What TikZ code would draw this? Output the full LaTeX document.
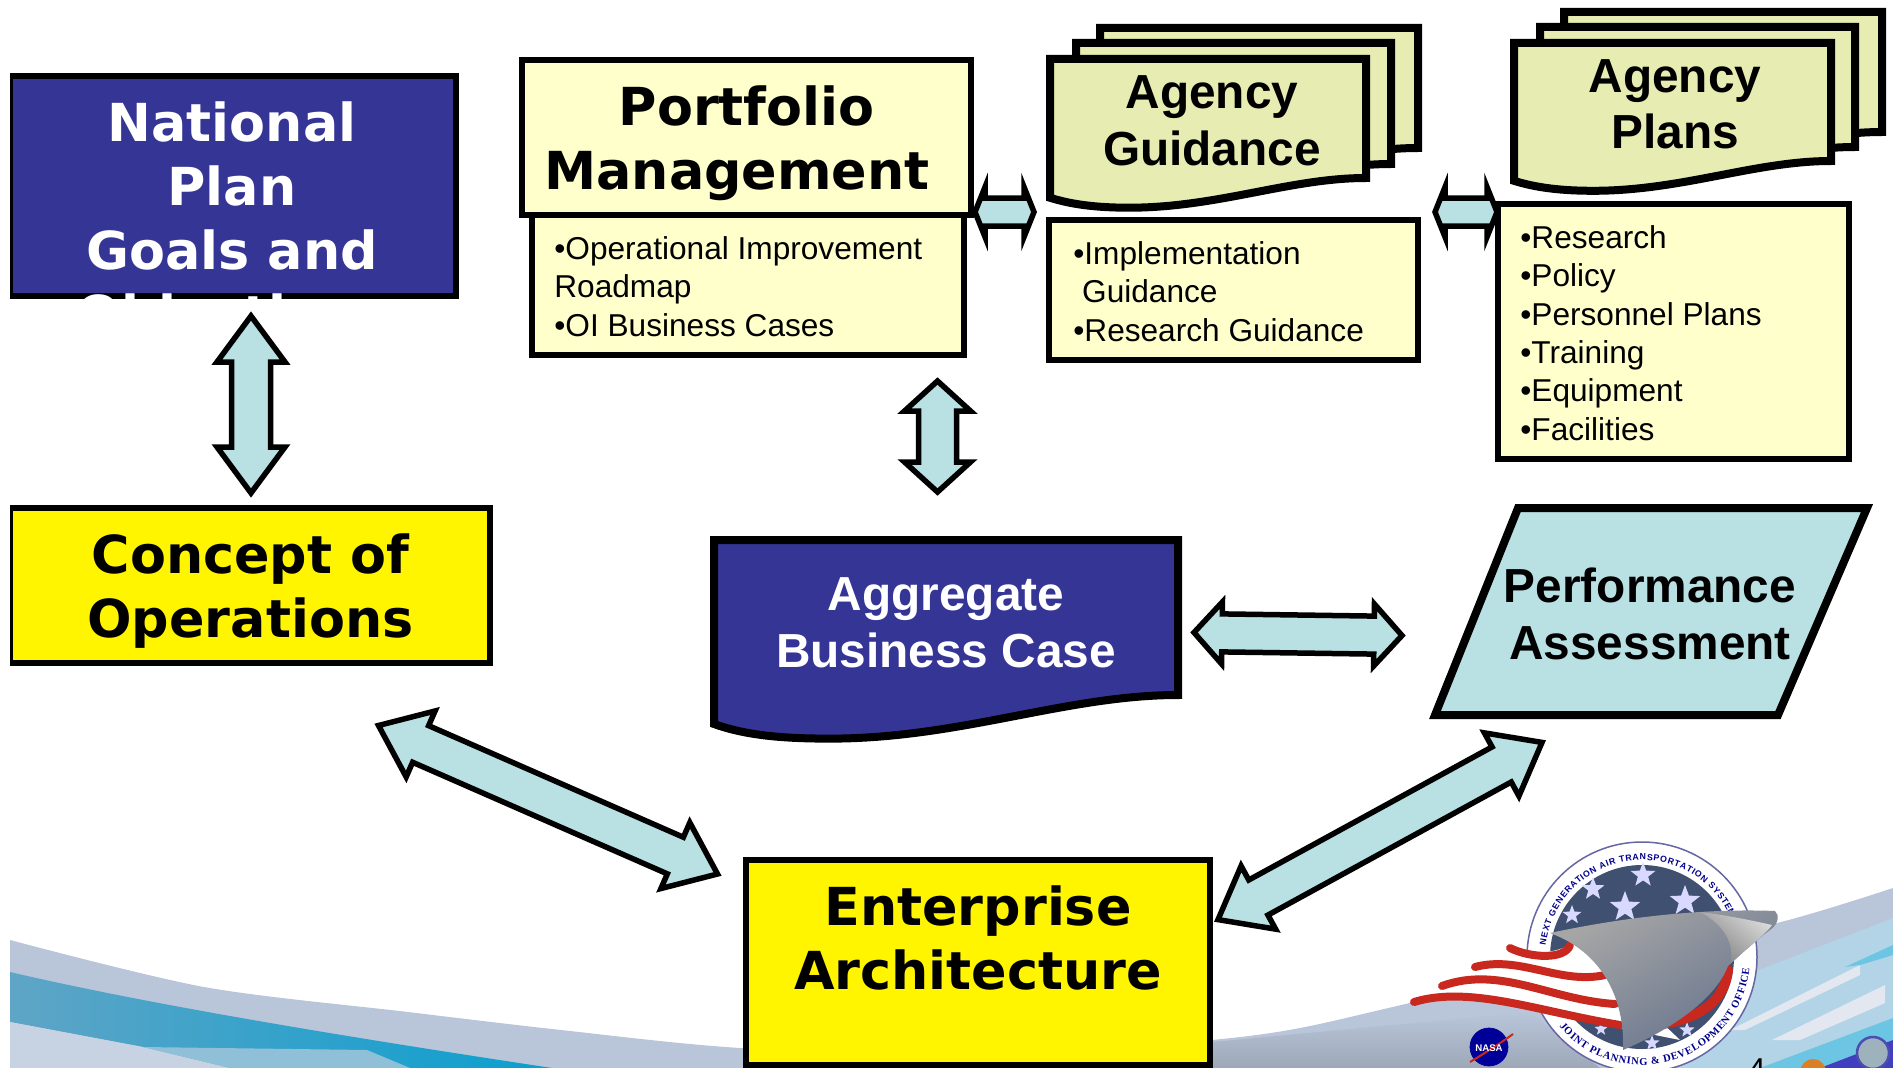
\documentclass[tikz,border=0pt]{standalone}
\usepackage{fontspec}
\setmainfont{Liberation Sans}
\newfontfamily\verdanafont{DejaVu Sans}
\newfontfamily\sealfont{Liberation Serif}
\usepackage{xcolor}
\usepackage{tikz}
\usetikzlibrary{positioning}
\usetikzlibrary{calc}
\usetikzlibrary{fit}
\usetikzlibrary{math}
\usetikzlibrary{shapes.geometric}
\usetikzlibrary{decorations.text}

\definecolor{planblue}{HTML}{353596}
\definecolor{opsyellow}{HTML}{FFF500}
\definecolor{paleyellow}{HTML}{FFFFCC}
\definecolor{sheetgreen}{HTML}{E7ECB2}
\definecolor{arrowblue}{HTML}{B9E0E3}
\definecolor{bandgray}{HTML}{B9C5D9}
\definecolor{bandpale}{HTML}{C7D3E2}
\definecolor{bandblue}{HTML}{5FA5C6}
\definecolor{bandvivid}{HTML}{0A9FCF}
\definecolor{bandsky}{HTML}{B2D4E6}
\definecolor{sealnavy}{HTML}{3F5070}
\definecolor{flagred}{HTML}{C8281E}

\def\pxu{0.02cm}

\tikzset{
  boxline/.style   = {draw=black, line width=1.15mm, inner sep=0pt},
  sheetline/.style = {draw=black, line width=1.6mm},
  arrowline/.style = {draw=black, line width=1.1mm, fill=arrowblue, miter limit=12},
  widetitle/.style = {font=\verdanafont\bfseries\fontsize{29.8}{36.3}\selectfont, align=center, inner sep=0pt, anchor=base},
  archtitle/.style = {font=\bfseries\fontsize{27.2}{32.3}\selectfont, align=center, inner sep=0pt, anchor=base},
  listtext/.style  = {font=\fontsize{18}{21.8}\selectfont, align=left, inner sep=0pt, anchor=base west},
  sealstar/.style  = {star, star points=5, star point ratio=2.4, fill=#1, inner sep=0pt},
  ringtext/.style  = {decorate, decoration={text along path, text align=fit to path}},
}

% wavy sheet: fill, left, top, right, y of right end
\newcommand{\docsheet}[5]{
  \tikzmath{
    \sheetw   = #4-(#2);
    \sheetlow = #5+0.094*\sheetw;
    \sheetlft = #5+0.0625*\sheetw;
  }
  \draw[sheetline, fill=#1] (#2,#3) -- (#4,#3) -- (#4,#5)
    .. controls ({#4-0.24*\sheetw},#5) and ({#2+0.53*\sheetw},\sheetlow) .. ({#2+0.25*\sheetw},\sheetlow)
    .. controls ({#2+0.15*\sheetw},\sheetlow) and ({#2+0.07*\sheetw},\sheetlow-3) .. (#2,\sheetlft) -- cycle;
}

% block arrow with two heads: from, to, head length, head half, shaft half
\newcommand{\blockarrow}[5]{
  \draw[arrowline] (#1)
    -- ($(#1)!#3*\pxu!(#2)!#4*\pxu!90:(#2)$)
    -- ($(#1)!#3*\pxu!(#2)!#5*\pxu!90:(#2)$)
    -- ($(#2)!#3*\pxu!(#1)!#5*\pxu!-90:(#1)$)
    -- ($(#2)!#3*\pxu!(#1)!#4*\pxu!-90:(#1)$)
    -- (#2)
    -- ($(#2)!#3*\pxu!(#1)!#4*\pxu!90:(#1)$)
    -- ($(#2)!#3*\pxu!(#1)!#5*\pxu!90:(#1)$)
    -- ($(#1)!#3*\pxu!(#2)!#5*\pxu!-90:(#2)$)
    -- ($(#1)!#3*\pxu!(#2)!#4*\pxu!-90:(#2)$)
    -- cycle;
}

\begin{document}
\begin{tikzpicture}[x=0.02cm,y=-0.02cm]

  \useasboundingbox (0,0) rectangle (1893,1068);
  \clip (10,0) rectangle (1893,1068);

  % background band
  \fill[bandgray] plot[smooth, tension=0.5] coordinates {(10,940) (204,987) (408,1012) (561,1030) (740,1048) (1000,1058) (1212,1040) (1300,1028) (1410,1003) (1600,960) (1777,923) (1893,888)}
    -- (1893,1068) -- (10,1068) -- cycle;
  \shade[top color=bandgray, bottom color=black!15!bandgray] (1212,1068) -- (1212,1042) -- (1530,1012) -- (1600,1068) -- cycle;
  \shade[left color=bandblue, right color=bandvivid] (10,972) .. controls (130,1000) and (300,1030) .. (552,1068) -- (230,1068) -- (143,1047) -- (10,1022) -- cycle;
  \fill[bandpale] (10,1022) -- (143,1047) -- (230,1068) -- (10,1068) -- cycle;
  \fill[bandblue!70!white] (143,1047) -- (367,1050) -- (410,1068) -- (230,1068) -- cycle;
  \fill[bandsky] (1640,1068) -- (1720,985) -- (1893,918) -- (1893,1068) -- cycle;
  \fill[white!60!bandgray] (1772,1040) -- (1885,985) -- (1885,1003) -- (1800,1040) -- cycle;
  \fill[white!60!bandgray] (1730,1030) -- (1860,965) -- (1860,975) -- (1745,1030) -- cycle;
  \fill[bandvivid!60!white] (1845,967) -- (1893,945) -- (1893,955) -- (1860,965) -- cycle;
  \fill[bandvivid!60!white] (1760,1068) -- (1893,1018) -- (1893,1040) -- (1820,1068) -- cycle;
  \fill[blue!50!gray] (1820,1068) -- (1893,1040) -- (1893,1068) -- cycle;

  % seal
  \fill[white] (1642,957) circle (115);
  \draw[blue!40!black!60!white, line width=0.3mm] (1642,957) circle (115);
  \fill[sealnavy] (1642,957) circle (92);
  \foreach \sx/\sy/\ss [count=\si] in {1643/875/26, 1593/889/24, 1625/907/32, 1685/901/32, 1572/915/20, 1601/1029/14, 1687/1030/16, 1652/1043/16}
    \node[sealstar=blue!15!white, minimum size=\ss*\pxu] (sealstar\si) at (\sx,\sy) {};
  \path[ringtext, decoration={text={|\bfseries\fontsize{5}{6}\selectfont\color{blue!55!black}|NEXT GENERATION AIR TRANSPORTATION SYSTEM}}]
    (1642,957) ++(187:97) arc[start angle=187, end angle=336, radius=97];
  \path[ringtext, decoration={text={|\sealfont\bfseries\fontsize{6}{7}\selectfont\color{blue!55!black}|JOINT PLANNING {\&} DEVELOPMENT OFFICE}}]
    (1642,957) ++(140:108) arc[start angle=140, end angle=6, radius=108];

  % flag and nose
  \fill[white] (1410,1003) .. controls (1460,975) and (1490,955) .. (1508,946) .. controls (1530,955) and (1560,955) .. (1575,940)
    -- (1680,1040) -- (1620,1028) .. controls (1540,1015) and (1470,985) .. (1410,1003) -- cycle;
  \draw[flagred, line width=1.6mm, line cap=round] (1414,1002) .. controls (1470,985) and (1540,1012) .. (1620,1025);
  \draw[flagred, line width=1.6mm, line cap=round] (1442,986) .. controls (1500,965) and (1550,1000) .. (1615,1004);
  \draw[flagred, line width=1.6mm, line cap=round] (1475,967) .. controls (1520,955) and (1560,985) .. (1605,975);
  \draw[flagred, line width=1.6mm, line cap=round] (1510,948) .. controls (1530,958) and (1565,960) .. (1570,945);
  \draw[flagred, line width=2.0mm, line cap=round] (1655,1025) .. controls (1700,1020) and (1725,1000) .. (1728,970);
  \shade[left color=gray!70!white, right color=sealnavy!80!white, shading angle=30]
    (1550,933) .. controls (1620,918) and (1700,908) .. (1775,911)
    .. controls (1780,915) and (1778,925) .. (1770,930)
    .. controls (1750,945) and (1735,960) .. (1728,966)
    .. controls (1715,1000) and (1670,1030) .. (1623,1050)
    .. controls (1625,1010) and (1610,955) .. (1550,933) -- cycle;
  \shade[top color=white!70!gray, bottom color=gray, shading angle=-40]
    (1700,912) .. controls (1725,925) and (1735,945) .. (1730,964)
    .. controls (1750,945) and (1765,935) .. (1772,925) .. controls (1750,920) and (1725,915) .. (1700,912) -- cycle;

  % small logos
  \draw[blue!60!black, fill=blue!60!black] (1489,1047) circle (19);
  \draw[flagred, line width=0.4mm] (1470,1062) .. controls (1490,1050) and (1505,1040) .. (1513,1034);
  \node[font=\bfseries\fontsize{5.5}{6}\selectfont, text=white, inner sep=0pt] (nasa) at (1489,1048) {NASA};
  \draw[blue!40!gray, fill=bandsky!60!gray, line width=0.5mm] (1873,1053) circle (16);
  \fill[orange!70!gray] (1813,1072) circle (13);
  \node[font=\fontsize{18}{21.8}\selectfont, inner sep=0pt, anchor=base] (pagenum) at (1757,1080) {4};

  % left column
  \node[boxline, fill=planblue, fit={(10,76) (456,296)}] (national) {};
  \node[widetitle, text=white] (nationaltext) at (232,333) {National\\Plan\\Goals and\\Objectives};
  \node[boxline, fill=opsyellow, fit={(10,508) (490,663)}] (concept) {};
  \node[widetitle] (concepttext) at (250.5,637) {Concept of\\Operations};

  % portfolio
  \node[boxline, fill=paleyellow, fit={(532,215) (964,355)}] (oibox) {};
  \node[boxline, fill=paleyellow, fit={(522,60) (971,215)}] (portfolio) {};
  \node[widetitle] (portfoliotext) at (737,189) {\hspace*{11pt}Portfolio\\Management};
  \node[listtext] (oitext) at (554,336) {•Operational Improvement\\Roadmap\\•OI Business Cases};

  % agency guidance
  \docsheet{sheetgreen}{1100}{28}{1418}{148}
  \docsheet{sheetgreen}{1076}{43}{1391}{164}
  \docsheet{sheetgreen}{1050}{59}{1366}{178}
  \node[archtitle] (guidancetext) at (1212,165) {Agency\\Guidance};
  \node[boxline, fill=paleyellow, fit={(1049,220) (1418,360)}] (guidancebox) {};
  \node[listtext] (guidancelist) at (1073,341) {•Implementation\\\hspace*{5pt}Guidance\\•Research Guidance};

  % agency plans
  \docsheet{sheetgreen}{1564}{12}{1882}{132}
  \docsheet{sheetgreen}{1540}{27}{1855}{147}
  \docsheet{sheetgreen}{1514}{43}{1831}{161}
  \node[archtitle] (planstext) at (1675,149) {Agency\\Plans};
  \node[boxline, fill=paleyellow, fit={(1498,204) (1849,459)}] (plansbox) {};
  \node[listtext] (planslist) at (1520,440) {•Research\\•Policy\\•Personnel Plans\\•Training\\•Equipment\\•Facilities};

  % aggregate, performance, enterprise
  \docsheet{planblue}{714}{540}{1178}{695}
  \node[archtitle, text=white] (aggregatetext) at (946,667) {Aggregate\\Business Case};
  \draw[sheetline, fill=arrowblue] (1518,508) -- (1867,508) -- (1778,715) -- (1435,715) -- cycle;
  \node[archtitle] (perftext) at (1650,659) {Performance\\Assessment};
  \node[boxline, line width=1.2mm, fill=opsyellow, fit={(746,860) (1210,1065)}] (enterprise) {};
  \node[widetitle] (enterprisetext) at (978,989) {Enterprise\\Architecture};

  % arrow ends
  \coordinate (natend) at (251,316);
  \coordinate (conend) at (251,493);
  \coordinate (pfend) at (937.5,381);
  \coordinate (agend) at (937.5,492);
  \coordinate (pfright) at (975,212);
  \coordinate (guleft) at (1034,212);
  \coordinate (guright) at (1435,212);
  \coordinate (plleft) at (1497,212);
  \coordinate (agright) at (1194,632.5);
  \coordinate (perfleft) at (1402,635.5);
  \coordinate (perfdown) at (1542,742.4);
  \coordinate (eaup) at (1218,919.6);
  \coordinate (condown) at (378.5,725.5);
  \coordinate (ealeft) at (717.5,874);

  % two-headed arrows
  \blockarrow{natend}{conend}{46}{34}{19.5}
  \blockarrow{pfend}{agend}{30}{33}{19}
  \blockarrow{pfright}{guleft}{10}{25}{14}
  \blockarrow{guright}{plleft}{10}{25}{14}
  \blockarrow{agright}{perfleft}{28}{31}{19}
  \blockarrow{perfdown}{eaup}{46}{36}{20}
  \blockarrow{condown}{ealeft}{46}{36}{20}

\end{tikzpicture}
\end{document}
